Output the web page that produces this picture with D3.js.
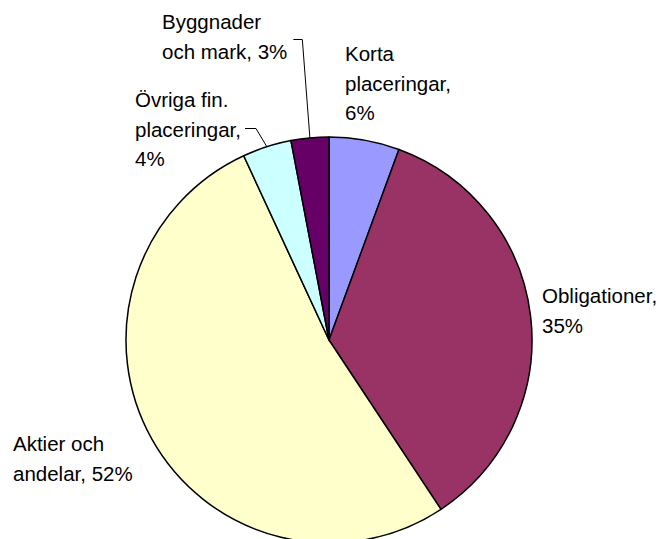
<!DOCTYPE html>
<html>
<head>
<meta charset="utf-8">
<script src="https://d3js.org/d3.v7.min.js"></script>
<style>
  body { margin: 0; background: #fff; }
  text { font-family: "Liberation Sans", Arial, sans-serif; font-size: 20.5px; fill: #000; }
</style>
</head>
<body>
<svg id="chart" width="662" height="539"></svg>
<script>
// Slices, clockwise from 12 o'clock
const categories = ["Korta placeringar", "Obligationer", "Aktier och andelar", "Övriga fin. placeringar", "Byggnader och mark"];
const shares = [5.6, 35.1, 52.4, 3.9, 3.0];
const labelLines = [
  ["Korta", "placeringar,", "6%"],
  ["Obligationer,", "35%"],
  ["Aktier och", "andelar, 52%"],
  ["Övriga fin.", "placeringar,", "4%"],
  ["Byggnader", "och mark, 3%"]
];
const colours = ["#9999FF", "#993366", "#FFFFCC", "#CCFFFF", "#660066"];

const width = 662, height = 539;
const cx = 329, cy = 340, radius = 203;
const lineHeight = 29.5;

// label placement (left x, first baseline) and optional leader elbow
const labelLayout = [
  { x: 345, y: 61, leader: null },
  { x: 542, y: 303, leader: null },
  { x: 13, y: 451, leader: null },
  { x: 135, y: 107, leader: { line: 1, dy: -8, gap: 4, run: 11 } },
  { x: 162, y: 29, leader: { line: 1, dy: -19, gap: 6, run: 9 } }
];

const svg = d3.select("#chart");
const g = svg.append("g").attr("transform", `translate(${cx},${cy})`);

const pie = d3.pie().sort(null).value((d) => d.value);
const arcs = pie(shares.map((v, i) => ({ value: v, i: i })));
const arc = d3.arc().innerRadius(0).outerRadius(radius);

g.selectAll("path.slice")
  .data(arcs)
  .join("path")
  .attr("class", "slice")
  .attr("d", arc)
  .attr("fill", (d) => colours[d.data.i])
  .attr("stroke", "#000")
  .attr("stroke-width", 1.5)
  .attr("stroke-linejoin", "round");

// labels
const labels = svg.append("g");
labelLayout.forEach((pos, i) => {
  const t = labels.append("text").attr("x", pos.x).attr("y", pos.y);
  labelLines[i].forEach((line, j) => {
    t.append("tspan").attr("x", pos.x).attr("y", pos.y + j * lineHeight).text(line);
  });
});

// leader lines for the small slices
labels.selectAll("text").each(function (_, i) {
  const lay = labelLayout[i];
  if (!lay.leader) return;
  const tspan = d3.select(this).selectAll("tspan").nodes()[lay.leader.line];
  const bb = tspan.getBBox();
  const yMid = lay.y + lay.leader.line * lineHeight + lay.leader.dy;
  const x0 = bb.x + bb.width + lay.leader.gap;
  const x1 = x0 + lay.leader.run;
  const mid = (arcs[i].startAngle + arcs[i].endAngle) / 2;
  const ex = cx + Math.sin(mid) * radius;
  const ey = cy - Math.cos(mid) * radius;
  svg.append("path")
    .attr("d", `M${x0},${yMid}H${x1}L${ex},${ey}`)
    .attr("fill", "none")
    .attr("stroke", "#000")
    .attr("stroke-width", 1);
});
</script>
</body>
</html>
